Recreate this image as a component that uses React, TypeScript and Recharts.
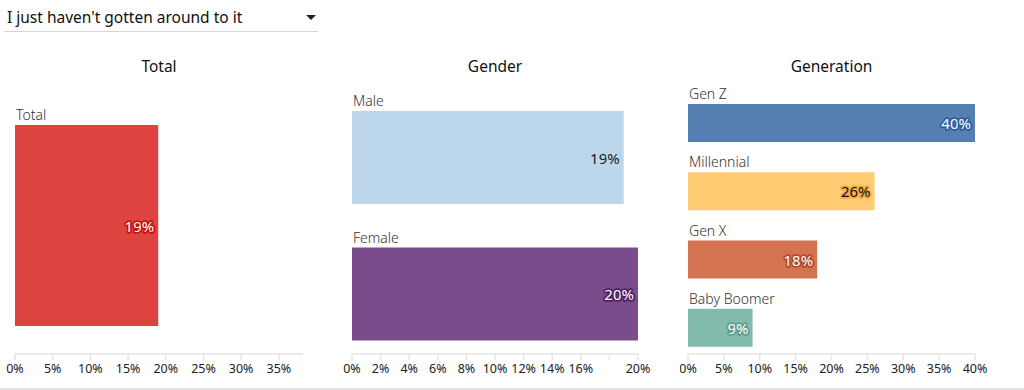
import React from 'react';
import { BarChart, Bar, XAxis, YAxis, LabelList, Cell } from 'recharts';

// ---------- data ----------
const dropdownLabel = "I just haven't gotten around to it";

const totalTitle = 'Total';
const totalCategories = ['Total'];
const totalValues = [19];
const totalTicks = [0, 5, 10, 15, 20, 25, 30, 35];
const totalMax = 38.2;

const genderTitle = 'Gender';
const genderCategories = ['Male', 'Female'];
const genderValues = [19, 20];
const genderTicks = [0, 2, 4, 6, 8, 10, 12, 14, 16, 18, 20];
const genderHiddenTickLabels = [18];
const genderMax = 20;

const generationTitle = 'Generation';
const generationCategories = ['Gen Z', 'Millennial', 'Gen X', 'Baby Boomer'];
const generationValues = [40, 26, 18, 9];
const generationTicks = [0, 5, 10, 15, 20, 25, 30, 35, 40];
const generationMax = 40;

// ---------- styles ----------
const FONT = '"Noto Sans", "Open Sans", sans-serif';
const totalColors = ['#DD4440'];
const totalHalo = ['#C8120E'];
const totalText = ['#ffffff'];

const genderColors = ['#BCD7EB', '#7A4C8C'];
const genderHalo = ['#BCD7EB', '#4E2163'];
const genderText = ['#1a1a1a', '#ffffff'];

const generationColors = ['#557FB0', '#FFCB73', '#D47352', '#82BBAE'];
const generationHalo = ['#2E5E9A', '#F2AE45', '#B9482A', '#5E9D8F'];
const generationText = ['#ffffff', '#111111', '#ffffff', '#ffffff'];

type PanelProps = {
  title: string;
  categories: string[];
  values: number[];
  ticks: number[];
  hiddenTicks?: number[];
  max: number;
  colors: string[];
  halos: string[];
  texts: string[];
  left: number;
  width: number;
  marginLeft: number;
  marginRight: number;
  barSize: number;
};

function Panel(p: PanelProps) {
  const data = p.categories.map((c, i) => ({ name: c, value: p.values[i] }));
  const plotLeft = p.marginLeft;
  const plotRight = p.width - p.marginRight;

  const ValueLabel = (props: any) => {
    const { x, y, width, height, value, index } = props;
    return (
      <text
        x={Number(x) + Number(width) - 4}
        y={Number(y) + Number(height) / 2}
        textAnchor="end"
        dominantBaseline="central"
        fill={p.texts[index]}
        stroke={p.halos[index]}
        strokeWidth={3.5}
        strokeLinejoin="round"
        paintOrder="stroke"
        fontSize={15}
        fontFamily={FONT}
      >
        {value}%
      </text>
    );
  };

  const NameLabel = (props: any) => {
    const { x, y, value } = props;
    return (
      <text
        x={Number(x) + 1}
        y={Number(y) - 5}
        textAnchor="start"
        fill="#333333"
        fontSize={14}
        fontFamily={FONT}
        fontWeight={300}
      >
        {value}
      </text>
    );
  };

  return (
    <div style={{ position: 'absolute', left: p.left, top: 0, width: p.width, height: 390 }}>
      <div
        style={{
          position: 'absolute',
          top: 56,
          left: plotLeft,
          width: plotRight - plotLeft,
          textAlign: 'center',
          fontFamily: FONT,
          fontSize: 15.5,
          color: '#111',
          lineHeight: '20px',
        }}
      >
        {p.title}
      </div>
      <div style={{ position: 'absolute', top: 80, left: 0 }}>
        <BarChart
          width={p.width}
          height={310}
          data={data}
          layout="vertical"
          margin={{ top: 9, right: p.marginRight, bottom: 0, left: p.marginLeft }}
        >
          <XAxis
            type="number"
            domain={[0, p.max]}
            ticks={p.ticks}
            interval={0}
            allowDataOverflow
            height={36}
            tickSize={6}
            tickMargin={4}
            axisLine={{ stroke: '#e4e4e4', strokeWidth: 1.5 }}
            tickLine={{ stroke: '#e4e4e4', strokeWidth: 1.5 }}
            tick={{ fill: '#222', fontSize: 12.5, fontFamily: FONT }}
            tickFormatter={(v: number) => ((p.hiddenTicks || []).includes(v) ? '' : `${v}%`)}
          />
          <YAxis type="category" dataKey="name" hide padding={{ top: 0, bottom: -8 }} />
          <Bar dataKey="value" barSize={p.barSize} isAnimationActive={false}>
            {data.map((d, i) => (
              <Cell key={d.name} fill={p.colors[i]} />
            ))}
            <LabelList dataKey="value" content={ValueLabel} />
            <LabelList dataKey="name" content={NameLabel} />
          </Bar>
        </BarChart>
      </div>
    </div>
  );
}

export default function App() {
  return (
    <div
      style={{
        position: 'absolute',
        left: 0,
        top: 0,
        width: 1024,
        height: 390,
        background: '#fff',
        overflow: 'hidden',
        fontFamily: FONT,
      }}
    >
      {/* dropdown */}
      <div
        style={{
          position: 'absolute',
          left: 4,
          top: 0,
          width: 314,
          height: 31,
          borderBottom: '1px solid #d6d6d6',
        }}
      >
        <div
          style={{
            position: 'absolute',
            left: 3,
            top: 7,
            fontSize: 15.5,
            color: '#111',
            lineHeight: '20px',
            whiteSpace: 'nowrap',
          }}
        >
          {dropdownLabel}
        </div>
        <div
          style={{
            position: 'absolute',
            left: 302,
            top: 15,
            width: 0,
            height: 0,
            borderLeft: '5px solid transparent',
            borderRight: '5px solid transparent',
            borderTop: '5px solid #222',
          }}
        />
      </div>

      <Panel
        title={totalTitle}
        categories={totalCategories}
        values={totalValues}
        ticks={totalTicks}
        max={totalMax}
        colors={totalColors}
        halos={totalHalo}
        texts={totalText}
        left={0}
        width={330}
        marginLeft={15}
        marginRight={27}
        barSize={201}
      />
      <Panel
        title={genderTitle}
        categories={genderCategories}
        values={genderValues}
        ticks={genderTicks}
        hiddenTicks={genderHiddenTickLabels}
        max={genderMax}
        colors={genderColors}
        halos={genderHalo}
        texts={genderText}
        left={340}
        width={340}
        marginLeft={12}
        marginRight={42}
        barSize={93}
      />
      <Panel
        title={generationTitle}
        categories={generationCategories}
        values={generationValues}
        ticks={generationTicks}
        max={generationMax}
        colors={generationColors}
        halos={generationHalo}
        texts={generationText}
        left={680}
        width={344}
        marginLeft={8}
        marginRight={49}
        barSize={38}
      />

      <div
        style={{
          position: 'absolute',
          left: 0,
          top: 388,
          width: 1024,
          height: 2,
          background: '#e2e2e2',
        }}
      />
    </div>
  );
}
